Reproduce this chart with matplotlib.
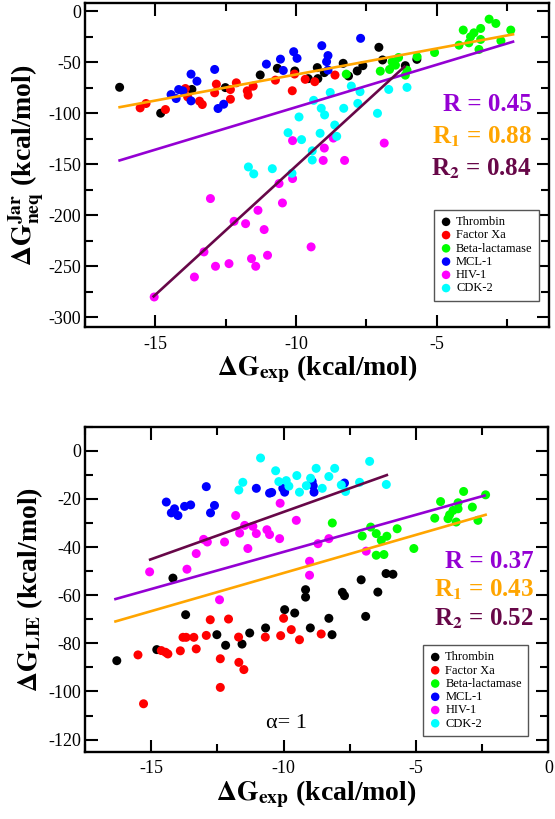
import matplotlib
matplotlib.use("Agg")
import matplotlib.pyplot as plt
from matplotlib.ticker import MultipleLocator

plt.rcParams['font.family'] = ['Liberation Serif', 'DejaVu Serif']
plt.rcParams['mathtext.fontset'] = 'stix'
plt.rcParams['axes.unicode_minus'] = False

# ---- top panel: Jarzynski non-equilibrium estimate ----
JAR_THROMBIN_X = [-16.27, -14.81, -13.70, -12.51, -11.27, -10.66, -10.04, -9.56, -9.22, -9.24,
                  -8.99, -8.32, -8.13, -7.82, -7.62, -7.05, -6.92, -6.11, -5.70]
JAR_THROMBIN_Y = [-74.7, -100.1, -76.8, -75.0, -62.6, -56.1, -58.7, -66.2, -66.2, -55.4,
                  -60.3, -51.2, -63.6, -58.7, -53.5, -35.5, -47.9, -53.5, -47.3]
JAR_FXA_X = [-15.54, -15.33, -14.64, -13.93, -13.85, -13.43, -13.33, -12.89, -12.83, -12.33, -12.33,
             -12.12, -11.73, -11.70, -11.52, -10.73, -10.13, -10.05, -9.67, -9.33, -8.61]
JAR_FXA_Y = [-94.9, -90.6, -96.5, -75.9, -84.1, -88.3, -91.6, -80.1, -71.6, -86.4, -76.9,
             -70.3, -78.2, -82.4, -73.6, -67.7, -78.1, -61.7, -66.9, -69.2, -62.7]
JAR_BETA_X = [-8.21, -7.00, -6.67, -6.58, -6.46, -6.35, -6.11, -6.05, -5.69, -5.07, -4.20,
              -4.05, -3.85, -3.79, -3.67, -3.43, -3.43, -3.49, -3.13, -2.89, -2.71, -2.36]
JAR_BETA_Y = [-61.8, -58.9, -57.2, -49.7, -53.0, -45.5, -62.8, -57.9, -44.8, -40.6, -33.4,
              -18.6, -31.1, -25.2, -21.3, -17.0, -27.8, -37.6, -7.9, -12.1, -29.1, -18.6]
JAR_MCL1_X = [-14.44, -14.26, -14.17, -14.02, -13.73, -13.73, -13.52, -12.89, -12.77, -12.57,
              -11.05, -10.55, -10.45, -10.08, -9.96, -9.08, -8.86, -8.91, -8.86, -7.70]
JAR_MCL1_Y = [-81.8, -85.7, -76.9, -78.2, -61.8, -88.0, -68.7, -57.2, -95.5, -91.3,
              -52.0, -47.1, -58.2, -39.8, -46.3, -33.9, -43.6, -49.6, -57.8, -26.7]
JAR_HIV_X = [-10.12, -8.99, -9.03, -8.27, -6.86, -8.67, -10.12, -10.60, -13.04, -10.48, -11.35, -12.20,
             -11.79, -11.13, -13.27, -9.46, -11.01, -11.58, -11.43, -12.38, -12.86, -13.61, -15.04]
JAR_HIV_Y = [-127.0, -134.3, -146.4, -146.4, -129.4, -124.5, -164.2, -169.1, -183.8, -188.1, -195.3, -206.1,
             -208.4, -214.2, -236.1, -231.2, -239.4, -242.7, -250.2, -247.6, -250.2, -260.7, -280.3]
JAR_CDK2_X = [-9.37, -9.10, -8.98, -8.30, -8.62, -8.78, -8.03, -7.72, -7.80, -7.10, -6.70, -6.05,
              -9.89, -10.28, -9.80, -9.14, -8.55, -9.42, -9.42, -11.69, -11.50, -10.84, -10.14]
JAR_CDK2_Y = [-87.5, -95.3, -101.8, -95.3, -111.7, -79.8, -73.5, -79.0, -90.5, -100.2, -76.8, -74.8,
              -103.8, -119.2, -126.0, -119.8, -122.8, -137.0, -146.0, -152.8, -159.6, -154.5, -159.0]
# regression lines (end points) and correlation values
JAR_FIT_ALL = ([-16.27, -2.28], [-146.4, -30.0])
JAR_FIT_1 = ([-16.27, -2.28], [-94.2, -22.8])
JAR_FIT_2 = ([-15.06, -6.14], [-279.7, -54.5])
JAR_R = ["0.45", "0.88", "0.84"]

# ---- bottom panel: LIE estimate ----
LIE_THROMBIN_X = [-16.30, -14.79, -14.18, -13.70, -12.52, -12.19, -11.57, -11.28, -10.68, -9.96, -9.58, -9.17,
                  -9.17, -8.99, -8.29, -8.17, -7.78, -7.70, -7.07, -6.90, -6.44, -6.13, -5.87]
LIE_THROMBIN_Y = [-87.2, -82.6, -52.9, -68.1, -76.4, -80.8, -80.3, -75.7, -73.6, -66.0, -67.4, -57.7,
                  -60.8, -73.6, -69.6, -76.4, -58.8, -60.2, -53.6, -68.8, -58.7, -51.0, -51.3]
LIE_FXA_X = [-15.50, -15.29, -14.62, -14.46, -14.37, -13.90, -13.80, -13.68, -13.39, -13.30, -12.92, -12.77,
             -12.39, -12.39, -12.08, -11.70, -11.69, -11.50, -10.69, -10.11, -10.00, -9.71, -9.40, -8.58]
LIE_FXA_Y = [-84.8, -105.1, -83.0, -83.7, -84.4, -83.1, -77.5, -77.5, -77.5, -82.3, -76.7, -70.2,
             -86.4, -98.3, -69.9, -77.4, -87.9, -90.9, -77.4, -76.8, -69.6, -74.3, -78.5, -76.1]
LIE_BETA_X = [-8.16, -7.03, -6.71, -6.50, -6.31, -6.10, -5.71, -6.50, -6.21, -5.08, -4.29,
              -4.07, -3.79, -3.73, -3.60, -3.41, -3.41, -3.48, -3.20, -2.87, -2.66, -2.37]
LIE_BETA_Y = [-30.0, -35.4, -31.7, -34.4, -37.2, -35.5, -32.4, -43.4, -43.1, -40.6, -28.0,
              -21.1, -28.2, -26.6, -24.8, -21.6, -24.1, -29.6, -16.9, -23.4, -28.9, -18.3]
LIE_MCL1_X = [-14.43, -14.24, -14.12, -13.99, -13.74, -13.51, -12.92, -12.76, -12.61,
              -11.03, -10.53, -10.45, -10.03, -9.96, -8.92, -8.88, -8.85, -7.70]
LIE_MCL1_Y = [-21.3, -25.8, -24.1, -26.9, -23.1, -22.5, -14.9, -25.8, -22.7,
              -15.6, -17.6, -17.3, -15.6, -17.2, -12.8, -14.6, -17.2, -13.4]
LIE_HIV_X = [-15.06, -13.65, -13.30, -13.02, -12.88, -12.23, -11.81, -11.66, -11.47, -11.16, -11.35, -11.03,
             -10.63, -10.53, -10.15, -10.13, -9.52, -8.29, -8.70, -9.02, -9.02, -6.88, -12.42]
LIE_HIV_Y = [-50.3, -49.2, -42.7, -36.8, -37.9, -37.9, -26.9, -34.2, -31.0, -31.4, -40.6, -34.4,
             -32.8, -34.8, -36.5, -21.8, -28.9, -36.5, -38.6, -45.9, -51.7, -41.7, -61.9]
LIE_CDK2_X = [-10.87, -11.69, -11.54, -10.30, -10.18, -9.90, -9.80, -9.50, -9.40, -9.14,
              -8.98, -8.77, -8.54, -8.29, -8.07, -7.82, -7.66, -7.13, -6.75, -6.12]
LIE_CDK2_Y = [-3.0, -16.3, -13.1, -8.3, -12.8, -12.4, -14.7, -10.3, -17.2, -14.5,
              -11.4, -7.3, -15.6, -10.7, -7.3, -14.2, -16.9, -13.1, -4.4, -14.0]
LIE_FIT_ALL = ([-16.35, -2.41], [-61.6, -18.6])
LIE_FIT_1 = ([-16.35, -2.37], [-70.9, -26.6])
LIE_FIT_2 = ([-15.04, -6.10], [-45.2, -10.1])
LIE_R = ["0.37", "0.43", "0.52"]

SYSTEMS = ["Thrombin", "Factor Xa", "Beta-lactamase", "MCL-1", "HIV-1", "CDK-2"]
COLORS = ["#000000", "#ff0000", "#00ff00", "#0000ff", "#ff00ff", "#00ffff"]
FIT_COLORS = ["#9400d3", "#ffa500", "#670748"]


def style_axes(ax, ymajor, yminor):
    ax.xaxis.set_major_locator(MultipleLocator(5))
    ax.xaxis.set_minor_locator(MultipleLocator(2.5))
    ax.yaxis.set_major_locator(MultipleLocator(ymajor))
    ax.yaxis.set_minor_locator(MultipleLocator(yminor))
    ax.tick_params(which="both", direction="in", top=True, right=True, width=1.5)
    ax.tick_params(which="major", length=9, labelsize=13)
    ax.tick_params(which="minor", length=6)
    ax.tick_params(axis="y", pad=3)
    ax.tick_params(axis="x", pad=6)
    for sp in ax.spines.values():
        sp.set_linewidth(1.7)


def draw_panel(ax, xs, ys, fits, rvals, legend_anchor, r_pos):
    for x, y, c, name in zip(xs, ys, COLORS, SYSTEMS):
        ax.scatter(x, y, s=42, color=c, edgecolors="none", label=name, zorder=3)
    for (fx, fy), c in zip(fits, FIT_COLORS):
        ax.plot(fx, fy, color=c, linewidth=1.9, zorder=4)
    leg = ax.legend(loc="upper right", bbox_to_anchor=legend_anchor, borderaxespad=0,
                    fontsize=9, labelspacing=0.1, handletextpad=0.3, handlelength=1.0,
                    borderpad=0.5, fancybox=False, framealpha=1, edgecolor="#555555",
                    markerscale=0.95)
    leg.get_frame().set_linewidth(1.0)
    labels = ["R = ", r"R$_\mathbf{1}$ = ", r"R$_\mathbf{2}$ = "]
    rx, ry, dy = r_pos
    for i, (lab, rv, c) in enumerate(zip(labels, rvals, FIT_COLORS)):
        ax.text(rx, ry - i * dy, lab + rv, transform=ax.transAxes, ha="right", va="baseline",
                color=c, fontsize=18, fontweight="bold", zorder=5)


fig = plt.figure(figsize=(5.55, 8.19), dpi=100)
ax1 = fig.add_axes([0.1532, 0.6004, 0.836, 0.396])
ax2 = fig.add_axes([0.1532, 0.0822, 0.8348, 0.3968])

draw_panel(ax1,
           [JAR_THROMBIN_X, JAR_FXA_X, JAR_BETA_X, JAR_MCL1_X, JAR_HIV_X, JAR_CDK2_X],
           [JAR_THROMBIN_Y, JAR_FXA_Y, JAR_BETA_Y, JAR_MCL1_Y, JAR_HIV_Y, JAR_CDK2_Y],
           [JAR_FIT_ALL, JAR_FIT_1, JAR_FIT_2], JAR_R, (0.978, 0.362), (0.963, 0.667, 0.1))
ax1.set_xlim(-17.5, -1)
ax1.set_ylim(-310, 8)
style_axes(ax1, 50, 25)
ax1.set_xlabel(r"$\mathbf{\Delta G_{exp}}$ (kcal/mol)", fontsize=20, fontweight="bold", va="top")
ax1.set_ylabel(r"$\mathbf{\Delta G^{Jar}_{neq}}$ (kcal/mol)", fontsize=20, fontweight="bold")
ax1.xaxis.set_label_coords(0.5, -0.08)
ax1.yaxis.set_label_coords(-0.085, 0.5)

draw_panel(ax2,
           [LIE_THROMBIN_X, LIE_FXA_X, LIE_BETA_X, LIE_MCL1_X, LIE_HIV_X, LIE_CDK2_X],
           [LIE_THROMBIN_Y, LIE_FXA_Y, LIE_BETA_Y, LIE_MCL1_Y, LIE_HIV_Y, LIE_CDK2_Y],
           [LIE_FIT_ALL, LIE_FIT_1, LIE_FIT_2], LIE_R, (0.956, 0.328), (0.969, 0.565, 0.088))
ax2.set_xlim(-17.5, 0)
ax2.set_ylim(-125, 10)
style_axes(ax2, 20, 10)
ax2.set_xlabel(r"$\mathbf{\Delta G_{exp}}$ (kcal/mol)", fontsize=20, fontweight="bold", va="top")
ax2.set_ylabel(r"$\mathbf{\Delta G_{LIE}}$ (kcal/mol)", fontsize=20, fontweight="bold")
ax2.xaxis.set_label_coords(0.5, -0.082)
ax2.yaxis.set_label_coords(-0.086, 0.5)
ax2.text(0.435, 0.072, "α= 1", transform=ax2.transAxes, ha="center", va="baseline", fontsize=16)

fig.savefig("out.png", dpi=100, facecolor="white")
